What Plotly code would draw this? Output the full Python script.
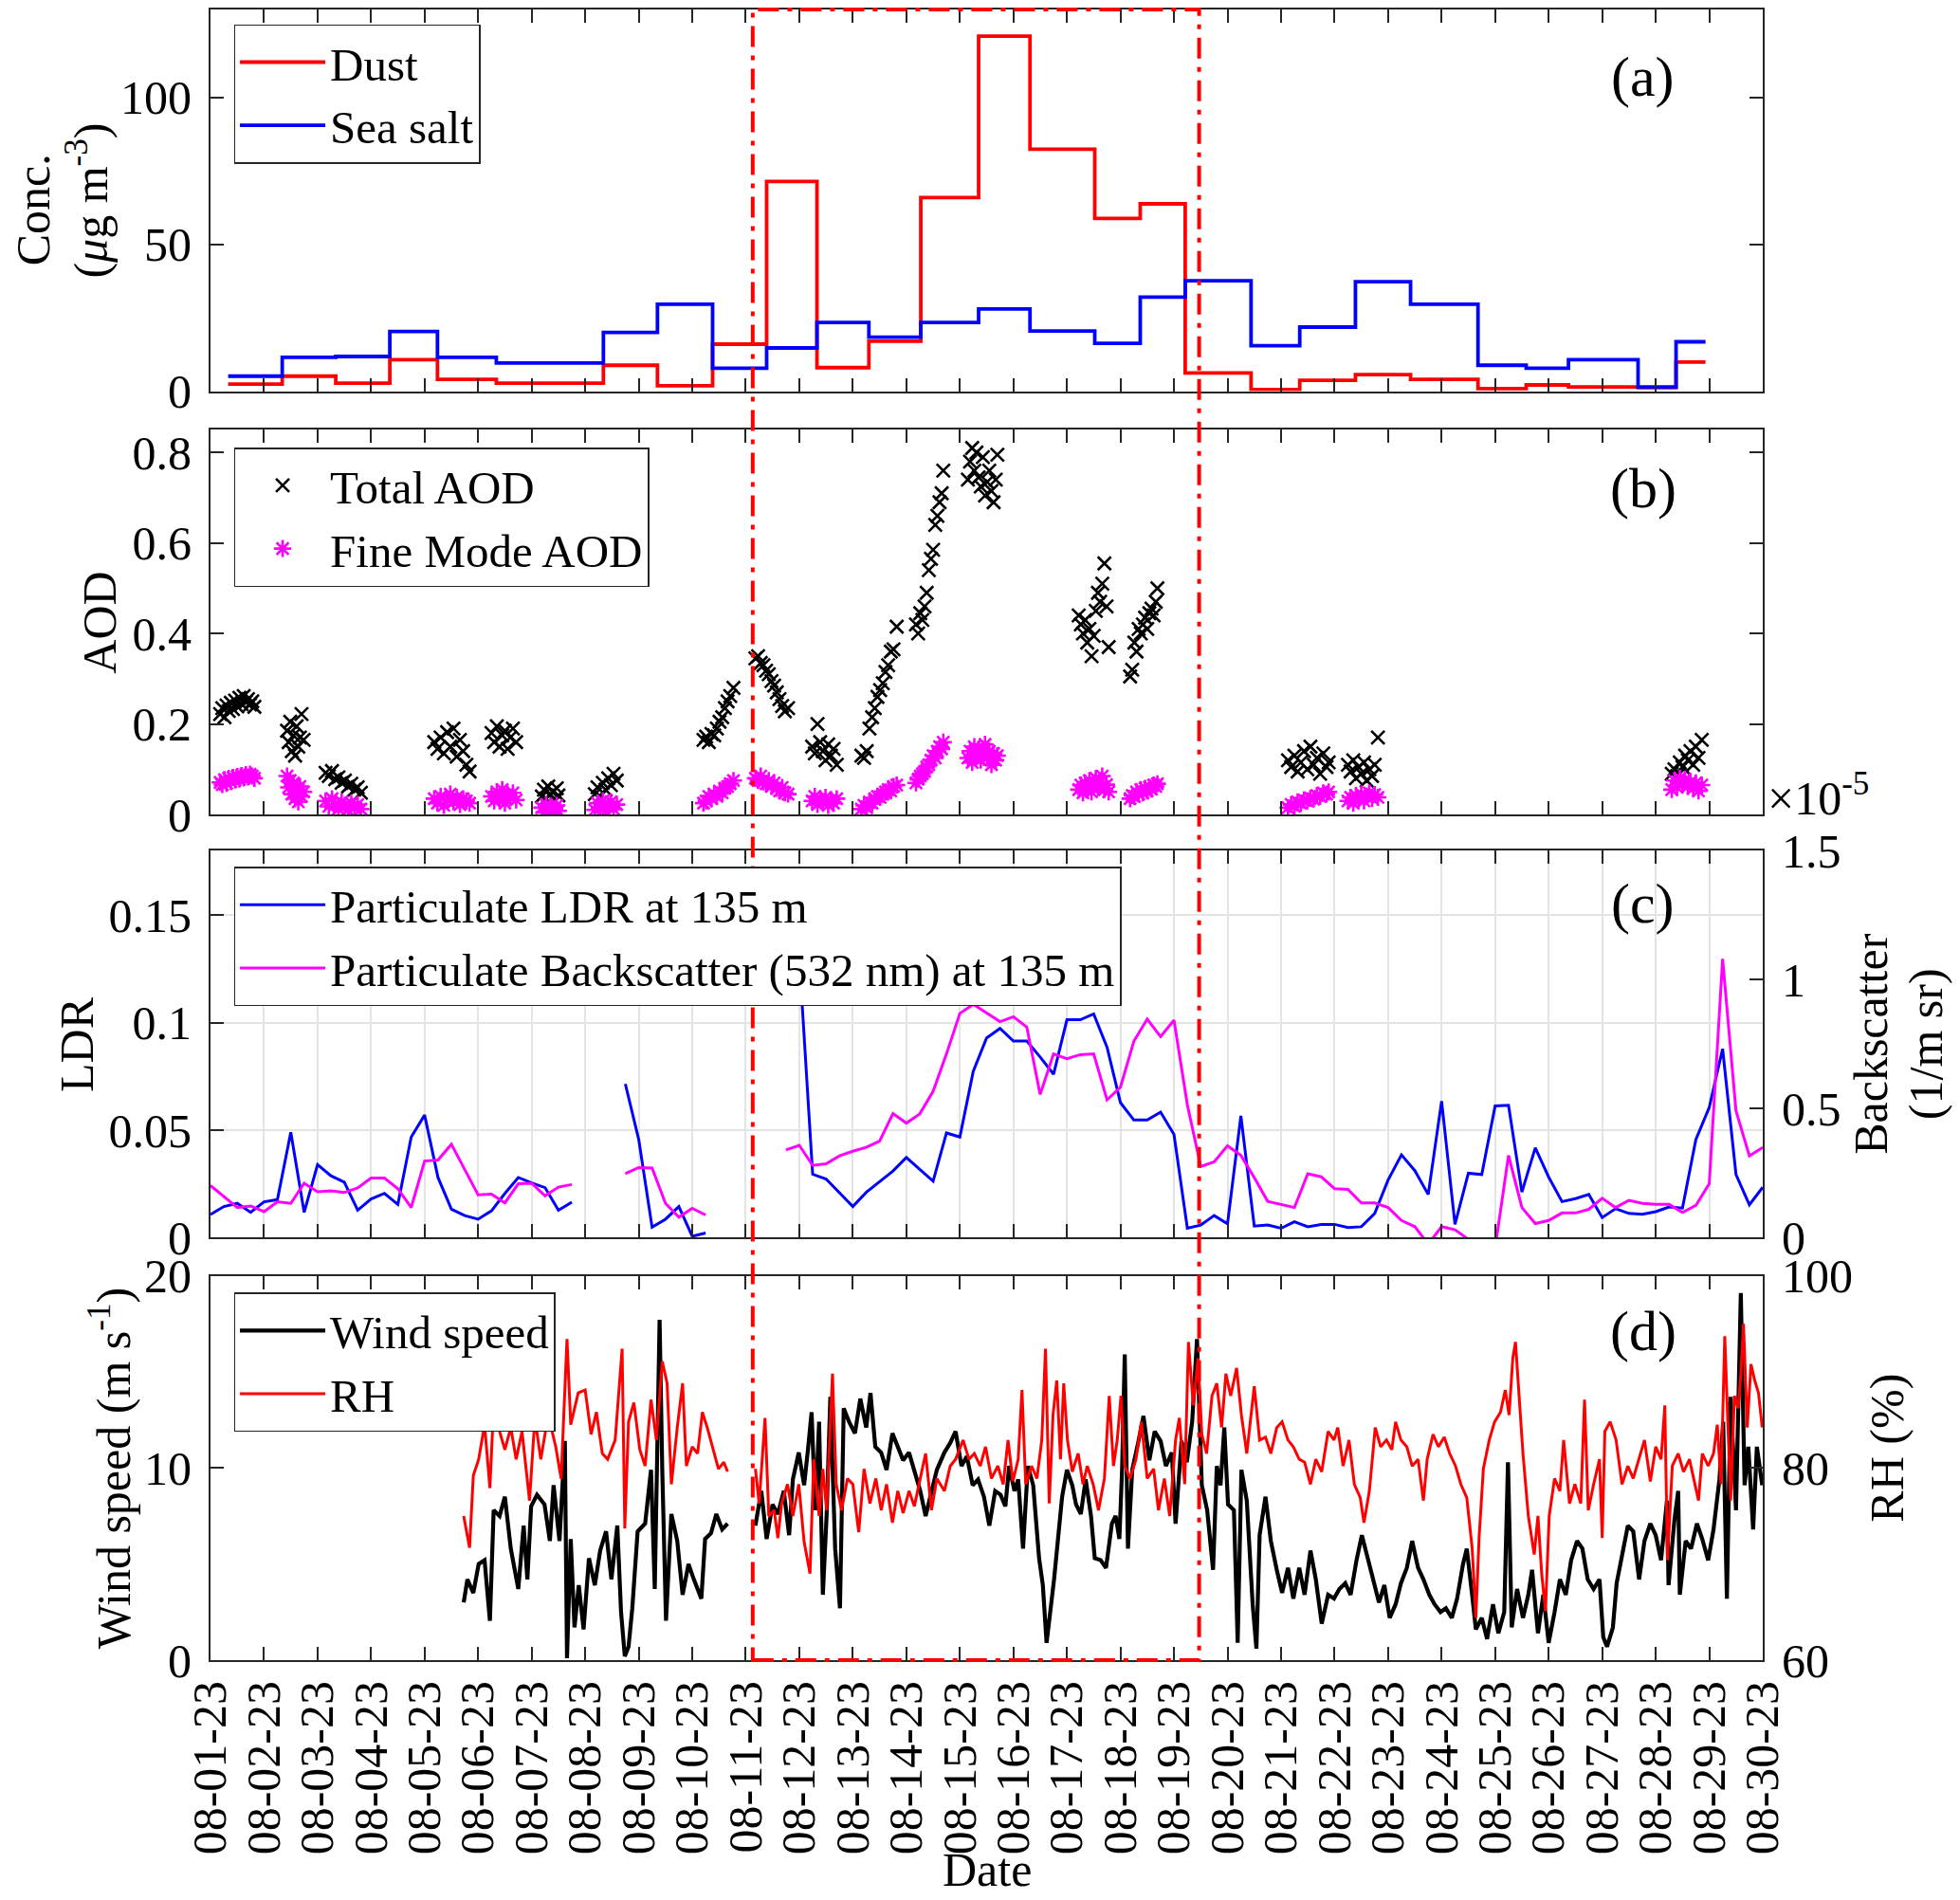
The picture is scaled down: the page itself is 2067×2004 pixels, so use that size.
import pandas as pd
import plotly.graph_objects as go

# ── Data (days = days after 2023-08-01 00:00) ─────────────────────────────────

START = pd.Timestamp("2023-08-01")
END = pd.Timestamp("2023-08-30")
EVENT_START_DAY = 10.13   # red dash-dot box around the dust event
EVENT_END_DAY = 18.47

# (a) filter samples, drawn as stairs (edges of each sampling period)
conc_edges = [0.33, 1.34, 2.34, 3.35, 4.24, 5.34, 7.34, 8.35, 9.38, 10.39, 11.33,
              12.30, 13.27, 14.35, 15.31, 16.52, 17.37, 18.21, 19.44, 20.35, 21.39,
              22.42, 23.68, 24.58, 25.37, 26.67, 27.38, 27.93]
dust = [2.4, 5.1, 2.7, 10.7, 4.0, 2.7, 8.8, 1.8, 16.0, 71.4, 8.0, 17.0, 65.9, 120.9,
        82.4, 58.8, 63.8, 6.2, 0.5, 3.7, 5.6, 4.0, 0.85, 2.1, 1.4, 1.2, 9.9]
sea_salt = [5.1, 11.5, 11.8, 20.3, 11.5, 9.6, 20.0, 29.6, 7.8, 14.7, 23.4, 18.4, 23.4,
            28.0, 20.5, 16.3, 32.0, 37.6, 15.5, 21.8, 37.3, 29.6, 8.8, 7.8, 10.7, 1.4, 16.8]

# (b) sun photometer AOD, one row per daily cluster
aod_day = [
    0.18, 0.22, 0.26, 0.30, 0.34, 0.38, 0.42, 0.46, 0.50, 0.54, 0.58, 0.62, 0.66, 0.70, 0.74, 0.78, 0.82,
    1.43, 1.46, 1.49, 1.52, 1.55, 1.58, 1.61, 1.64, 1.67, 1.70, 1.74,
    2.15, 2.21, 2.27, 2.33, 2.39, 2.45, 2.51, 2.57, 2.63, 2.69, 2.75, 2.81,
    4.18, 4.24, 4.30, 4.36, 4.42, 4.48, 4.54, 4.60, 4.66, 4.72, 4.78, 4.84,
    5.25, 5.30, 5.35, 5.40, 5.45, 5.50, 5.55, 5.60, 5.65, 5.71,
    6.19, 6.23, 6.27, 6.31, 6.35, 6.39, 6.43, 6.47, 6.50,
    7.18, 7.23, 7.28, 7.33, 7.38, 7.43, 7.48, 7.53, 7.59,
    9.21, 9.26, 9.31, 9.36, 9.41, 9.46, 9.51, 9.56, 9.61, 9.66, 9.71, 9.77,
    10.18, 10.23, 10.28, 10.33, 10.38, 10.43, 10.48, 10.53, 10.58, 10.63, 10.68, 10.73, 10.79,
    11.24, 11.29, 11.34, 11.39, 11.44, 11.49, 11.54, 11.59, 11.64, 11.70,
    12.16, 12.21, 12.26, 12.31, 12.36, 12.41, 12.46, 12.51, 12.56, 12.61, 12.66, 12.71, 12.76, 12.82,
    13.18, 13.22, 13.26, 13.30, 13.34, 13.38, 13.42, 13.46, 13.50, 13.54, 13.58, 13.62, 13.66, 13.69,
    14.15, 14.19, 14.23, 14.27, 14.31, 14.35, 14.39, 14.43, 14.47, 14.51, 14.55, 14.59, 14.63, 14.67, 14.70,
    16.22, 16.26, 16.30, 16.34, 16.38, 16.42, 16.46, 16.50, 16.54, 16.58, 16.62, 16.66, 16.70, 16.74, 16.78,
    17.18, 17.22, 17.26, 17.30, 17.34, 17.38, 17.42, 17.46, 17.50, 17.54, 17.58, 17.62, 17.66, 17.69,
    20.13, 20.19, 20.25, 20.31, 20.37, 20.43, 20.49, 20.55, 20.61, 20.67, 20.73, 20.79, 20.85, 20.89,
    21.25, 21.30, 21.35, 21.40, 21.45, 21.50, 21.55, 21.60, 21.65, 21.70, 21.75, 21.81,
    27.30, 27.35, 27.40, 27.45, 27.50, 27.55, 27.60, 27.65, 27.70, 27.75, 27.80, 27.86,
]
aod_total = [
    0.222, 0.235, 0.215, 0.241, 0.229, 0.247, 0.233, 0.252, 0.239, 0.258, 0.244, 0.262, 0.249, 0.255, 0.243, 0.250, 0.238,
    0.185, 0.160, 0.205, 0.140, 0.175, 0.130, 0.195, 0.150, 0.170, 0.222, 0.165,
    0.092, 0.085, 0.096, 0.078, 0.082, 0.070, 0.075, 0.062, 0.068, 0.055, 0.060, 0.048,
    0.160, 0.145, 0.170, 0.135, 0.182, 0.150, 0.190, 0.128, 0.165, 0.140, 0.110, 0.095,
    0.180, 0.160, 0.195, 0.150, 0.175, 0.185, 0.145, 0.170, 0.190, 0.160,
    0.040, 0.055, 0.035, 0.062, 0.045, 0.050, 0.030, 0.058, 0.042,
    0.045, 0.060, 0.040, 0.070, 0.055, 0.080, 0.065, 0.090, 0.075,
    0.165, 0.172, 0.160, 0.178, 0.175, 0.190, 0.205, 0.215, 0.235, 0.250, 0.262, 0.280,
    0.345, 0.350, 0.335, 0.330, 0.318, 0.310, 0.295, 0.285, 0.270, 0.255, 0.240, 0.228, 0.235,
    0.150, 0.135, 0.200, 0.160, 0.140, 0.120, 0.155, 0.130, 0.145, 0.110,
    0.130, 0.125, 0.140, 0.190, 0.215, 0.235, 0.260, 0.275, 0.290, 0.315, 0.330, 0.360, 0.365, 0.415,
    0.420, 0.400, 0.445, 0.430, 0.460, 0.490, 0.540, 0.565, 0.585, 0.640, 0.660, 0.690, 0.710, 0.760,
    0.740, 0.780, 0.810, 0.760, 0.800, 0.745, 0.725, 0.790, 0.705, 0.735, 0.760, 0.715, 0.690, 0.740, 0.795,
    0.440, 0.420, 0.400, 0.430, 0.380, 0.410, 0.350, 0.395, 0.450, 0.490, 0.470, 0.510, 0.555, 0.460, 0.370,
    0.305, 0.320, 0.380, 0.360, 0.410, 0.400, 0.420, 0.435, 0.410, 0.445, 0.455, 0.440, 0.470, 0.500,
    0.120, 0.105, 0.130, 0.095, 0.115, 0.140, 0.100, 0.150, 0.110, 0.125, 0.090, 0.135, 0.105, 0.115,
    0.110, 0.095, 0.120, 0.080, 0.105, 0.090, 0.115, 0.075, 0.100, 0.085, 0.110, 0.170,
    0.090, 0.100, 0.085, 0.115, 0.105, 0.130, 0.120, 0.140, 0.110, 0.150, 0.125, 0.165,
]
aod_fine = [
    0.071, 0.066, 0.077, 0.069, 0.080, 0.073, 0.082, 0.076, 0.084, 0.078, 0.086, 0.081, 0.088, 0.083, 0.089, 0.085, 0.080,
    0.085, 0.060, 0.075, 0.045, 0.070, 0.035, 0.055, 0.028, 0.062, 0.040, 0.050,
    0.030, 0.018, 0.035, 0.022, 0.012, 0.028, 0.020, 0.010, 0.025, 0.015, 0.022, 0.012,
    0.035, 0.025, 0.040, 0.020, 0.032, 0.045, 0.028, 0.038, 0.022, 0.035, 0.030, 0.025,
    0.040, 0.030, 0.050, 0.035, 0.055, 0.025, 0.045, 0.038, 0.048, 0.032,
    0.015, 0.005, 0.022, 0.010, 0.018, 0.003, 0.012, 0.020, 0.008,
    0.010, 0.025, 0.015, 0.030, 0.008, 0.020, 0.028, 0.012, 0.022,
    0.025, 0.030, 0.040, 0.035, 0.045, 0.040, 0.052, 0.048, 0.058, 0.062, 0.068, 0.075,
    0.080, 0.075, 0.085, 0.072, 0.068, 0.075, 0.062, 0.070, 0.058, 0.052, 0.060, 0.048, 0.045,
    0.030, 0.040, 0.022, 0.035, 0.028, 0.038, 0.020, 0.032, 0.025, 0.035,
    0.012, 0.020, 0.015, 0.028, 0.025, 0.035, 0.040, 0.038, 0.045, 0.050, 0.055, 0.052, 0.062, 0.065,
    0.070, 0.078, 0.085, 0.090, 0.095, 0.105, 0.110, 0.120, 0.130, 0.125, 0.140, 0.150, 0.145, 0.160,
    0.125, 0.140, 0.115, 0.150, 0.130, 0.145, 0.120, 0.135, 0.155, 0.125, 0.140, 0.110, 0.135, 0.120, 0.130,
    0.055, 0.065, 0.048, 0.070, 0.058, 0.075, 0.050, 0.068, 0.080, 0.060, 0.072, 0.085, 0.055, 0.066, 0.050,
    0.035, 0.042, 0.040, 0.050, 0.045, 0.055, 0.048, 0.058, 0.052, 0.060, 0.056, 0.065, 0.062, 0.068,
    0.015, 0.022, 0.018, 0.028, 0.025, 0.032, 0.030, 0.036, 0.034, 0.042, 0.040, 0.048, 0.045, 0.050,
    0.030, 0.038, 0.025, 0.042, 0.035, 0.045, 0.030, 0.040, 0.048, 0.036, 0.044, 0.038,
    0.055, 0.075, 0.060, 0.080, 0.068, 0.078, 0.062, 0.072, 0.058, 0.070, 0.052, 0.065,
]

# (c) lidar at 135 m, 6-hourly from 08-01 00:00 to 08-30 00:00 (None = no data)
lidar_time = pd.date_range(START, END, freq="6h")
ldr = [
    0.0108, 0.0145, 0.0160, 0.0118, 0.0167, 0.0177, 0.0490, 0.0118,
    0.0340, 0.0288, 0.0258, 0.0128, 0.0180, 0.0206, 0.0155, 0.0468,
    0.0570, 0.0280, 0.0133, 0.0103, 0.0086, 0.0125, 0.0206, 0.0280,
    0.0255, 0.0233, 0.0128, 0.0165, None, None, None, 0.0715,
    0.0457, 0.0049, 0.0086, 0.0145, 0.0007, 0.0022, None, None,
    None, None, None, None, 0.1300, 0.0295, 0.0273, 0.0210,
    0.0145, 0.0211, 0.0260, 0.0310, 0.0373, 0.0320, 0.0263, 0.0487,
    0.0468, 0.0774, 0.0929, 0.0973, 0.0914, 0.0914, 0.0840, 0.0760,
    0.1013, 0.1013, 0.1040, 0.0885, 0.0628, 0.0547, 0.0547, 0.0584,
    0.0480, 0.0044, 0.0059, 0.0103, 0.0065, 0.0566, 0.0054, 0.0059,
    0.0044, 0.0074, 0.0051, 0.0062, 0.0062, 0.0047, 0.0051, 0.0113,
    0.0268, 0.0385, 0.0312, 0.0201, 0.0635, 0.0062, 0.0300, 0.0294,
    0.0613, 0.0616, 0.0212, 0.0418, 0.0282, 0.0168, 0.0182, 0.0201,
    0.0094, 0.0135, 0.0113, 0.0109, 0.0121, 0.0143, 0.0138, 0.0456,
    0.0606, 0.0878, 0.0294, 0.0153, 0.0235,
]
backscatter_e5 = [   # in units of 1e-5 /(m sr)
    0.202, 0.160, 0.117, 0.123, 0.101, 0.139, 0.133, 0.211,
    0.178, 0.182, 0.175, 0.193, 0.231, 0.231, 0.190, 0.117,
    0.297, 0.301, 0.362, 0.264, 0.166, 0.169, 0.135, 0.209,
    0.211, 0.162, 0.196, 0.206, None, None, None, 0.248,
    0.272, 0.270, 0.133, 0.080, 0.114, 0.088, None, None,
    None, None, None, 0.340, 0.358, 0.280, 0.286, 0.317,
    0.335, 0.350, 0.374, 0.481, 0.444, 0.479, 0.567, 0.712,
    0.869, 0.904, 0.869, 0.837, 0.856, 0.816, 0.555, 0.712,
    0.693, 0.709, 0.712, 0.534, 0.583, 0.761, 0.847, 0.779,
    0.843, 0.515, 0.276, 0.294, 0.356, 0.319, 0.233, 0.141,
    0.129, 0.117, 0.248, 0.236, 0.190, 0.187, 0.135, 0.135,
    0.117, 0.067, 0.043, -0.025, 0.043, 0.031, -0.006, -0.060,
    -0.040, 0.319, 0.117, 0.055, 0.067, 0.096, 0.096, 0.110,
    0.153, 0.117, 0.145, 0.133, 0.129, 0.129, 0.098, 0.125,
    0.209, 1.080, 0.491, 0.317, 0.350,
]

# (d) met station (None marks the data gap)
wind_day = [
    4.73, 4.80, 4.91, 5.01, 5.12, 5.22, 5.29, 5.40, 5.50, 5.61, 5.75, 5.85, 5.92, 5.99,
    6.10, 6.24, 6.34, 6.41, 6.52, 6.62, 6.66, 6.73, 6.80, 6.88, 6.97, 7.07, 7.18, 7.28,
    7.39, 7.49, 7.60, 7.67, 7.74, 7.81, 7.88, 7.98, 8.12, 8.23, 8.30, 8.39, 8.44, 8.51,
    8.61, 8.72, 8.82, 8.93, 9.03, 9.17, 9.24, 9.35, 9.45, 9.56, 9.66, 9.90,
    10.18, 10.29, 10.39, 10.50, 10.60, 10.71, 10.81, 10.88, 10.99, 11.09, 11.16, 11.23,
    11.30, 11.37, 11.44, 11.51, 11.58, 11.67, 11.76, 11.83, 11.93, 12.04, 12.14, 12.25,
    12.33, 12.42, 12.53, 12.63, 12.74, 12.84, 12.94, 13.05, 13.15, 13.26, 13.36, 13.47,
    13.57, 13.71, 13.82, 13.92, 14.03, 14.13, 14.24, 14.34, 14.45, 14.55, 14.66, 14.76,
    14.85, 14.92, 15.02, 15.09, 15.18, 15.27, 15.37, 15.48, 15.55, 15.62, 15.69, 15.76,
    15.83, 15.91, 16.00, 16.10, 16.17, 16.26, 16.35, 16.45, 16.52, 16.63, 16.73, 16.84,
    16.91, 16.98, 17.03, 17.08, 17.14, 17.22, 17.33, 17.43, 17.54, 17.64, 17.75, 17.85,
    17.96, 18.03, 18.14, 18.24, 18.34, 18.43, 18.52, 18.62, 18.73, 18.80, 18.87, 18.94,
    19.01, 19.12, 19.19, 19.26, 19.36, 19.47, 19.54, 19.60, 19.71, 19.81, 19.92, 20.02,
    20.13, 20.23, 20.34, 20.44, 20.55, 20.65, 20.76, 20.88, 20.99, 21.09, 21.20, 21.30,
    21.41, 21.51, 21.62, 21.72, 21.83, 21.93, 22.03, 22.14, 22.24, 22.35, 22.45, 22.56,
    22.66, 22.77, 22.87, 22.98, 23.08, 23.19, 23.29, 23.40, 23.47, 23.57, 23.64, 23.75,
    23.85, 23.96, 24.06, 24.17, 24.24, 24.31, 24.41, 24.52, 24.62, 24.69, 24.80, 24.90,
    25.00, 25.11, 25.21, 25.32, 25.42, 25.53, 25.63, 25.73, 25.84, 25.95, 26.02, 26.09,
    26.20, 26.27, 26.37, 26.48, 26.58, 26.69, 26.79, 26.90, 27.00, 27.10, 27.21, 27.24,
    27.35, 27.42, 27.45, 27.56, 27.66, 27.77, 27.87, 27.98, 28.08, 28.19, 28.26, 28.33,
    28.40, 28.50, 28.59, 28.66, 28.73, 28.82, 28.89, 28.99,
]
wind_speed = [
    3.0, 4.2, 3.5, 5.0, 5.2, 2.05, 7.8, 7.5, 8.5, 5.8, 3.7, 7.0, 4.2, 8.0,
    8.6, 8.1, 6.2, 9.1, 6.2, 11.4, 0.1, 6.3, 1.7, 3.9, 1.6, 5.3, 3.9, 5.7,
    6.7, 4.2, 7.0, 2.5, 0.2, 0.7, 2.7, 6.7, 7.1, 9.9, 3.7, 17.7, 9.9, 2.05,
    7.6, 6.2, 3.4, 5.0, 4.2, 3.2, 6.3, 6.6, 7.6, 6.8, 7.1, None,
    7.0, 8.8, 6.3, 8.1, 7.6, 8.8, 6.5, 9.4, 10.8, 9.1, 10.9, 12.9,
    7.8, 12.4, 3.4, 7.5, 13.7, 5.8, 2.7, 13.1, 12.4, 11.8, 13.6, 12.1,
    13.9, 11.1, 10.8, 9.9, 11.8, 11.1, 10.4, 10.8, 9.9, 8.8, 7.5, 8.8,
    9.9, 10.8, 11.3, 11.9, 10.1, 10.6, 9.1, 9.4, 8.5, 7.0, 8.8, 8.6,
    8.0, 10.1, 8.8, 9.4, 5.8, 10.1, 9.1, 5.3, 3.9, 0.9, 2.5, 4.2,
    6.2, 8.5, 9.9, 9.1, 8.1, 7.6, 9.4, 7.5, 5.3, 5.2, 4.8, 7.1,
    7.5, 6.3, 9.9, 15.9, 5.8, 9.9, 11.3, 12.7, 10.4, 11.9, 11.4, 10.1,
    10.8, 7.1, 11.4, 10.3, 12.4, 16.7, 9.1, 7.8, 4.7, 10.1, 9.1, 12.1,
    8.1, 7.8, 0.9, 9.9, 8.3, 2.9, 0.6, 6.5, 8.5, 6.2, 4.7, 3.5,
    4.8, 3.2, 4.8, 3.4, 5.7, 4.2, 1.9, 3.4, 3.2, 3.7, 4.0, 3.4,
    5.2, 6.5, 5.3, 4.2, 3.0, 3.9, 2.2, 2.9, 4.0, 4.8, 6.2, 4.8,
    4.2, 3.4, 2.9, 2.5, 2.7, 2.2, 3.2, 5.0, 5.8, 3.4, 1.6, 2.2,
    1.1, 2.9, 1.4, 2.5, 10.3, 1.7, 3.7, 2.2, 3.4, 4.7, 1.4, 3.4,
    0.9, 2.5, 4.2, 3.4, 5.2, 6.2, 5.8, 4.2, 3.7, 4.2, 1.2, 0.7,
    1.7, 4.0, 5.5, 7.0, 6.7, 4.2, 6.2, 7.1, 6.5, 5.2, 8.3, 3.9,
    7.3, 8.8, 3.4, 6.2, 5.8, 7.1, 6.3, 5.2, 6.8, 9.4, 12.4, 3.2,
    13.7, 7.8, 19.1, 9.1, 11.1, 6.8, 11.1, 9.1,
]
rh_day = [
    4.73, 4.84, 4.91, 5.01, 5.12, 5.22, 5.29, 5.40, 5.50, 5.61, 5.71, 5.82, 5.96, 6.06,
    6.17, 6.31, 6.45, 6.55, 6.66, 6.73, 6.87, 7.00, 7.11, 7.21, 7.32, 7.42, 7.56, 7.69,
    7.74, 7.81, 7.91, 8.02, 8.12, 8.23, 8.33, 8.44, 8.53, 8.61, 8.72, 8.82, 8.89, 9.00,
    9.10, 9.19, 9.28, 9.38, 9.49, 9.59, 9.66, 9.90,
    10.18, 10.25, 10.36, 10.43, 10.53, 10.60, 10.67, 10.78, 10.88, 10.99, 11.09, 11.20,
    11.27, 11.37, 11.44, 11.51, 11.62, 11.69, 11.79, 11.90, 12.00, 12.11, 12.21, 12.32,
    12.43, 12.53, 12.63, 12.74, 12.84, 12.94, 13.05, 13.15, 13.26, 13.36, 13.47, 13.57,
    13.71, 13.82, 13.92, 14.06, 14.17, 14.27, 14.38, 14.48, 14.59, 14.71, 14.81, 14.90,
    14.99, 15.09, 15.16, 15.23, 15.34, 15.44, 15.53, 15.60, 15.67, 15.74, 15.81, 15.88,
    15.94, 16.01, 16.10, 16.21, 16.30, 16.38, 16.49, 16.59, 16.70, 16.79, 16.87, 16.94,
    17.01, 17.08, 17.18, 17.29, 17.39, 17.50, 17.62, 17.71, 17.82, 17.92, 18.03, 18.10,
    18.20, 18.27, 18.36, 18.45, 18.52, 18.61, 18.71, 18.80, 18.89, 18.97, 19.06, 19.17,
    19.26, 19.36, 19.50, 19.60, 19.71, 19.81, 19.92, 20.02, 20.13, 20.23, 20.34, 20.44,
    20.55, 20.65, 20.76, 20.88, 20.99, 21.06, 21.16, 21.27, 21.37, 21.48, 21.55, 21.65,
    21.76, 21.86, 21.97, 22.07, 22.14, 22.24, 22.35, 22.45, 22.56, 22.66, 22.73, 22.84,
    22.94, 23.05, 23.15, 23.26, 23.36, 23.47, 23.57, 23.64, 23.70, 23.78, 23.89, 23.99,
    24.10, 24.19, 24.26, 24.33, 24.38, 24.45, 24.52, 24.62, 24.73, 24.80, 24.87, 24.94,
    25.01, 25.11, 25.21, 25.28, 25.39, 25.49, 25.60, 25.67, 25.74, 25.84, 25.95, 26.00,
    26.05, 26.15, 26.26, 26.37, 26.48, 26.58, 26.69, 26.79, 26.90, 27.00, 27.10, 27.17,
    27.22, 27.31, 27.42, 27.52, 27.63, 27.73, 27.80, 27.87, 27.98, 28.08, 28.15, 28.22,
    28.29, 28.40, 28.47, 28.54, 28.59, 28.64, 28.71, 28.78, 28.85, 28.92, 28.99,
]
rh = [
    75.0, 71.7, 79.2, 80.9, 84.5, 77.9, 86.5, 83.8, 81.9, 84.2, 80.9, 83.8, 76.6, 85.2,
    80.9, 85.5, 82.2, 78.9, 93.4, 84.5, 87.8, 88.1, 83.5, 85.8, 81.5, 80.9, 82.9, 92.4,
    73.7, 84.8, 86.8, 81.9, 80.2, 87.1, 82.9, 91.1, 88.8, 78.3, 84.2, 88.8, 80.2, 82.2,
    81.5, 85.8, 84.2, 82.2, 79.9, 80.6, 79.6, None,
    79.9, 76.3, 85.2, 75.0, 75.6, 72.7, 76.3, 78.3, 75.0, 78.3, 72.3, 69.0,
    80.9, 75.0, 79.9, 75.6, 89.8, 78.3, 75.6, 78.9, 78.3, 73.3, 79.9, 76.3,
    78.9, 75.6, 78.3, 74.3, 77.6, 75.3, 77.6, 76.0, 78.9, 81.5, 75.6, 78.9,
    77.6, 80.2, 80.9, 82.9, 80.9, 81.5, 80.2, 82.2, 78.9, 80.2, 78.3, 82.9,
    78.6, 80.9, 88.1, 78.3, 80.2, 78.9, 82.9, 92.4, 76.3, 85.5, 89.1, 80.9,
    88.8, 82.9, 79.6, 81.5, 78.3, 80.2, 78.3, 75.6, 78.9, 87.5, 80.2, 82.9,
    87.5, 80.2, 78.9, 80.9, 84.8, 78.9, 79.9, 75.6, 78.9, 75.0, 82.9, 85.2,
    78.3, 93.1, 86.5, 91.4, 83.5, 81.5, 87.5, 88.8, 84.2, 89.8, 87.5, 90.4,
    85.5, 81.5, 88.5, 82.9, 83.2, 81.5, 84.2, 84.8, 82.9, 82.2, 80.9, 80.6,
    78.3, 80.9, 79.6, 83.8, 82.9, 84.2, 80.2, 82.9, 78.3, 76.9, 74.3, 77.6,
    84.2, 82.2, 82.9, 81.9, 84.8, 82.9, 82.2, 80.2, 80.9, 76.6, 80.9, 83.5,
    82.2, 83.2, 81.5, 80.2, 78.3, 76.9, 71.7, 64.4, 72.7, 79.9, 82.9, 84.8,
    85.8, 88.1, 85.5, 91.4, 93.1, 86.8, 81.5, 75.0, 71.0, 75.0, 69.0, 65.1,
    75.0, 78.9, 77.6, 82.9, 76.3, 78.3, 76.3, 87.1, 75.6, 78.3, 80.9, 72.7,
    83.8, 84.8, 82.9, 78.3, 80.2, 78.9, 80.9, 82.9, 78.6, 82.2, 80.9, 86.5,
    70.4, 80.2, 81.5, 79.6, 80.9, 78.3, 76.6, 81.5, 80.2, 81.5, 84.5, 78.3,
    93.7, 76.6, 87.5, 86.2, 89.8, 95.0, 84.2, 90.8, 89.1, 87.8, 84.2,
]

date_ticks = pd.date_range(START, END, freq="D")


def to_time(days):
    return [START + pd.Timedelta(days=d) for d in days]


# ── Figure ────────────────────────────────────────────────────────────────────

FONT = "Liberation Serif, Times New Roman, serif"
AX = "#262626"
FS = 50

fig = go.Figure()

# (a)
fig.add_trace(go.Scatter(x=to_time(conc_edges), y=dust + [dust[-1]], mode="lines", name="Dust",
                         line=dict(color="#ff0000", width=3.8, shape="hv"),
                         xaxis="x", yaxis="y", legend="legend"))
fig.add_trace(go.Scatter(x=to_time(conc_edges), y=sea_salt + [sea_salt[-1]], mode="lines", name="Sea salt",
                         line=dict(color="#0000ff", width=3.8, shape="hv"),
                         xaxis="x", yaxis="y", legend="legend"))

# (b)
fig.add_trace(go.Scatter(x=to_time(aod_day), y=aod_total, mode="markers", name="Total AOD",
                         marker=dict(symbol="x-thin-open", size=14, color="black",
                                     line=dict(width=2.6, color="black")),
                         xaxis="x2", yaxis="y2", legend="legend2"))
fig.add_trace(go.Scatter(x=to_time(aod_day), y=aod_fine, mode="markers", name="Fine Mode AOD",
                         marker=dict(symbol="asterisk-open", size=15, color="#ff00ff",
                                     line=dict(width=2.6, color="#ff00ff")),
                         xaxis="x2", yaxis="y2", legend="legend2"))

# (c)
fig.add_trace(go.Scatter(x=lidar_time, y=ldr, mode="lines", name="Particulate LDR at 135 m",
                         line=dict(color="#0000ff", width=3),
                         xaxis="x3", yaxis="y3", legend="legend3"))
fig.add_trace(go.Scatter(x=lidar_time, y=backscatter_e5, mode="lines",
                         name="Particulate Backscatter (532 nm) at 135 m",
                         line=dict(color="#ff00ff", width=3),
                         xaxis="x3", yaxis="y5", legend="legend3"))

# (d)
fig.add_trace(go.Scatter(x=to_time(wind_day), y=wind_speed, mode="lines", name="Wind speed",
                         line=dict(color="black", width=4.2),
                         xaxis="x4", yaxis="y4", legend="legend4"))
fig.add_trace(go.Scatter(x=to_time(rh_day), y=rh, mode="lines", name="RH",
                         line=dict(color="#ff0000", width=3),
                         xaxis="x4", yaxis="y6", legend="legend4"))

common_x = dict(type="date", range=[START, END], tickvals=date_ticks, ticks="inside",
                ticklen=14, tickwidth=1.5, tickcolor=AX, showline=True, linecolor=AX,
                linewidth=2, mirror="ticks", showgrid=False, zeroline=False,
                showticklabels=False, domain=[0, 1])
common_y = dict(ticks="inside", ticklen=14, tickwidth=1.5, tickcolor=AX, showline=True,
                linecolor=AX, linewidth=2, showgrid=False, zeroline=False,
                ticklabelstandoff=8, automargin=False)

dom_a, dom_b, dom_c, dom_d = [0.7688, 1.0], [0.5123, 0.7453], [0.2559, 0.4905], [0.0, 0.2329]

legend_style = dict(xanchor="left", yanchor="top", bgcolor="white", bordercolor=AX,
                    borderwidth=1.5, font=dict(size=49, family=FONT, color="black"),
                    itemwidth=90, tracegroupgap=0)

fig.update_layout(
    width=2059, height=1996,
    margin=dict(l=214, r=208, t=0, b=253),
    paper_bgcolor="white", plot_bgcolor="white",
    font=dict(family=FONT, size=FS, color="black"),
    xaxis=dict(common_x, anchor="y"),
    xaxis2=dict(common_x, anchor="y2"),
    xaxis3=dict(common_x, anchor="y3", showgrid=True, gridcolor="#e4e4e4", gridwidth=1.5),
    xaxis4=dict(common_x, anchor="y4", showticklabels=True, tickformat="%m-%d-%y",
                tickangle=-90),
    yaxis=dict(common_y, domain=dom_a, anchor="x", range=[0, 130], mirror="ticks",
               tickvals=[0, 50, 100]),
    yaxis2=dict(common_y, domain=dom_b, anchor="x2", range=[0, 0.85], mirror="ticks",
                tickvals=[0, 0.2, 0.4, 0.6, 0.8], ticktext=["0", "0.2", "0.4", "0.6", "0.8"]),
    yaxis3=dict(common_y, domain=dom_c, anchor="x3", range=[0, 0.18],
                tickvals=[0, 0.05, 0.1, 0.15], ticktext=["0", "0.05", "0.1", "0.15"],
                showgrid=True, gridcolor="#e4e4e4", gridwidth=1.5),
    yaxis5=dict(common_y, overlaying="y3", side="right", anchor="x3", range=[0, 1.5],
                tickvals=[0, 0.5, 1, 1.5], ticktext=["0", "0.5", "1", "1.5"]),
    yaxis4=dict(common_y, domain=dom_d, anchor="x4", range=[0, 20], tickvals=[0, 10, 20]),
    yaxis6=dict(common_y, overlaying="y4", side="right", anchor="x4", range=[60, 100],
                tickvals=[60, 80, 100]),
    legend=dict(legend_style, x=0.015, y=0.991),
    legend2=dict(legend_style, x=0.015, y=0.7346),
    legend3=dict(legend_style, x=0.015, y=0.4805),
    legend4=dict(legend_style, x=0.015, y=0.2226),
)

# dust event box spanning all panels
fig.add_shape(type="rect", xref="x4", yref="paper",
              x0=START + pd.Timedelta(days=EVENT_START_DAY),
              x1=START + pd.Timedelta(days=EVENT_END_DAY),
              y0=0, y1=1, layer="above",
              line=dict(color="#ff0000", width=4, dash="22px,9px,5px,9px"))

# axis titles (placed as in the original figure)
axis_titles = [
    ("Conc.", -0.1145, "y", 0.474),
    ("(<i>μ</i>g m<sup>-3</sup>)", -0.0792, "y", 0.5),
    ("AOD", -0.0712, "y2", 0.5),
    ("LDR", -0.0857, "y3", 0.5),
    ("Wind speed (m s<sup>-1</sup>)", -0.0648, "y4", 0.5),
    ("Backscatter", 1.0700, "y3", 0.5),
    ("(1/m sr)", 1.1050, "y3", 0.5),
    ("RH (%)", 1.0803, "y4", 0.552),
]
for text, xp, ya, yp in axis_titles:
    fig.add_annotation(text=text, xref="paper", yref=f"{ya} domain", x=xp, y=yp,
                       textangle=-90, xanchor="center", yanchor="middle", showarrow=False,
                       font=dict(size=FS, family=FONT, color="black"))

fig.add_annotation(text="Date", xref="paper", yref="paper", x=0.5, y=-0.1268,
                   xanchor="center", yanchor="middle", showarrow=False,
                   font=dict(size=FS, family=FONT, color="black"))

panel_labels = [("(a)", "x", "y", 0.824), ("(b)", "x2", "y2", 0.847),
                ("(c)", "x3", "y3", 0.863), ("(d)", "x4", "y4", 0.855)]
for label, xa, ya, yp in panel_labels:
    fig.add_annotation(text=label, xref=f"{xa} domain", yref=f"{ya} domain", x=0.923, y=yp,
                       xanchor="center", yanchor="middle", showarrow=False,
                       font=dict(size=60, family=FONT, color="black"))

fig.add_annotation(text="×10<sup>-5</sup>", xref="paper", yref="paper", x=1.002, y=0.505,
                   xanchor="left", yanchor="bottom", showarrow=False,
                   font=dict(size=FS, family=FONT, color="black"))

fig.write_html("out.html")
